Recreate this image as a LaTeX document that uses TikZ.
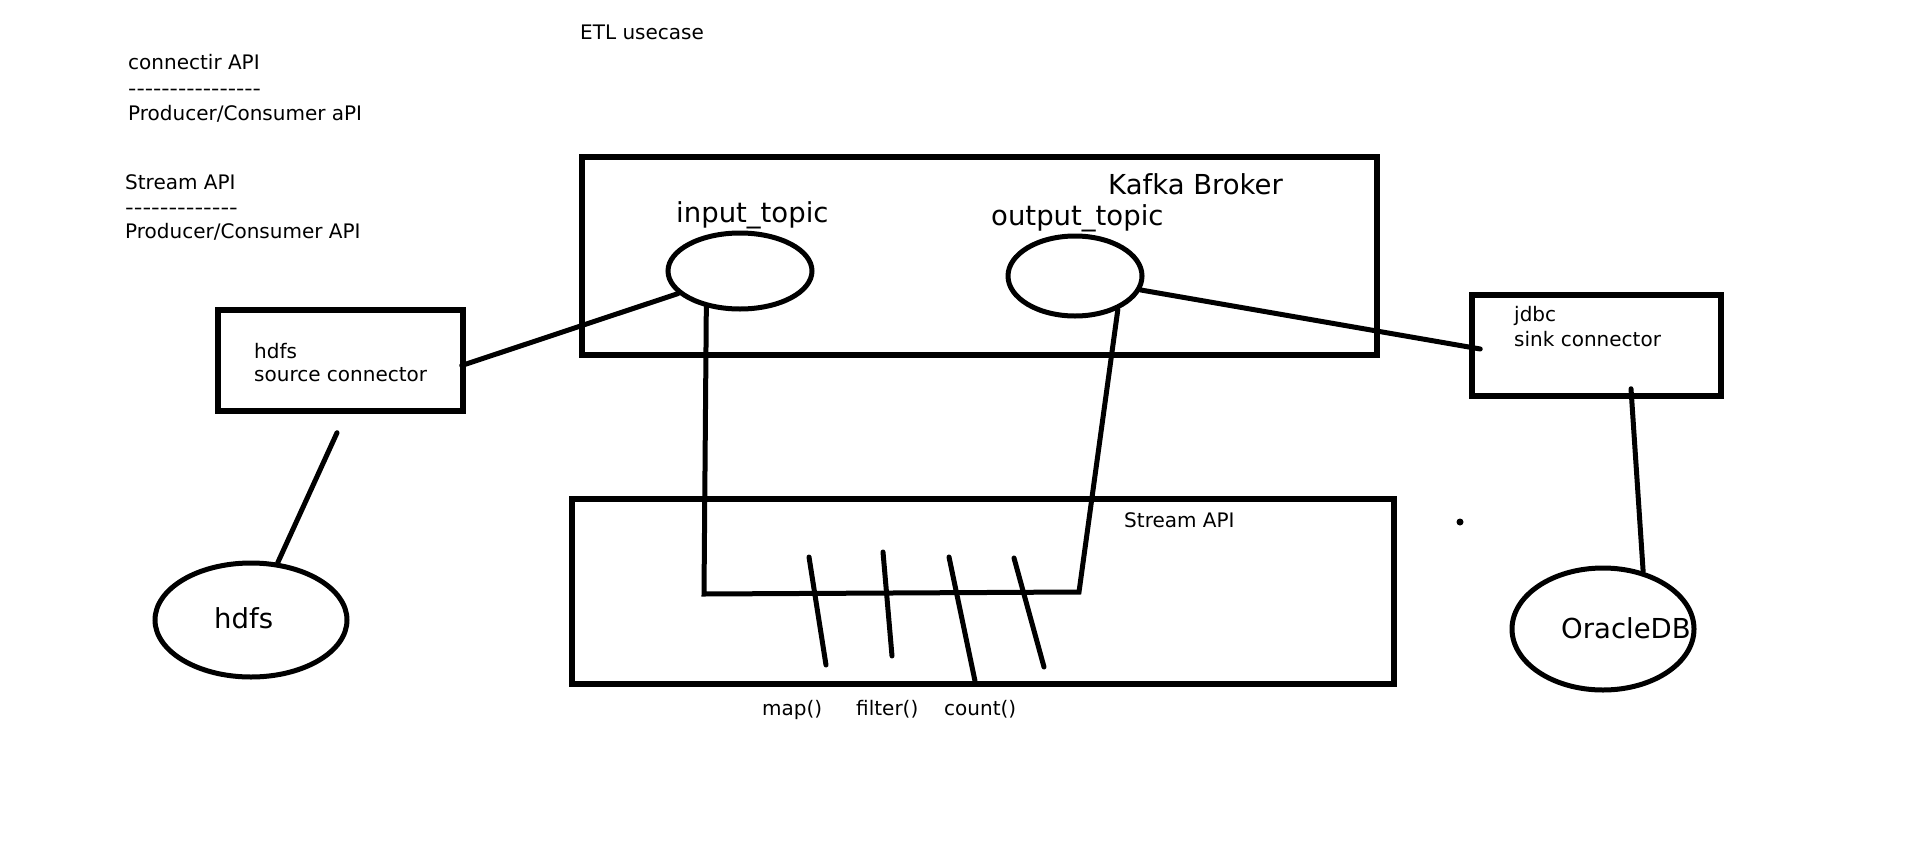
\documentclass[tikz,border=0pt]{standalone}
\usepackage{fontspec}
\setmainfont{DejaVu Sans}[Ligatures=TeXOff]
\usetikzlibrary{shapes.geometric,calc}
\tikzset{
  small/.style={font=\fontsize{20}{24}\selectfont, inner sep=0pt, anchor=base west},
  big/.style={font=\fontsize{27.5}{32}\selectfont, inner sep=0pt, anchor=base west},
  box/.style={draw, line width=5.5pt, inner sep=0pt},
  oval/.style={draw, ellipse, line width=5pt, inner sep=0pt},
  wire/.style={line width=5pt, line cap=round},
}
\begin{document}
\begin{tikzpicture}[x=1pt,y=-1pt]
\useasboundingbox[fill=white] (0,0) rectangle (1914,854);
% text notes
\node[small] (etl) at (580,39) {ETL usecase};
\node[small] (c1) at (128,69) {connectir API};
\node[small] (c2) at (128,95) {\scalebox{1.15}[1]{----------------}};
\node[small] (c3) at (128,120) {Producer/Consumer aPI};
\node[small] (s1) at (125,189) {Stream API};
\node[small] (s2) at (125,214) {\scalebox{1.2}[1]{-------------}};
\node[small] (s3) at (125,238) {Producer/Consumer API};
% Kafka broker
\node[box, minimum width=795pt, minimum height=198pt] (kafka) at (979.5,256) {};
\node[big] (kafkalbl) at (1108,194) {Kafka Broker};
\node[big] (inlbl) at (676,222) {input\_topic};
\node[big] (outlbl) at (991,225) {output\_topic};
\node[oval, minimum width=144pt, minimum height=76pt] (inp) at (740,271) {};
\node[oval, minimum width=134pt, minimum height=80pt] (outp) at (1075,276) {};
% source connector
\node[box, minimum width=245pt, minimum height=101pt] (src) at (340.5,360.5) {};
\node[small] (srct1) at (254,358) {hdfs};
\node[small] (srct2) at (254,381) {source connector};
% sink connector
\node[box, minimum width=249pt, minimum height=101pt] (jdbc) at (1596.5,345.5) {};
\node[small] (jt1) at (1514,321) {jdbc};
\node[small] (jt2) at (1514,346) {sink connector};
% stores
\node[oval, minimum width=192pt, minimum height=114pt] (hdfs) at (251,620) {};
\node[big] (hdfslbl) at (214,628) {hdfs};
\node[oval, minimum width=182pt, minimum height=122pt] (ora) at (1603,629) {};
\node[big] (oralbl) at (1561,638) {OracleDB};
% stream API box
\node[box, minimum width=822pt, minimum height=185pt] (stream) at (983,591.5) {};
\node[small] (streamlbl) at (1124,527) {Stream API};
\node[small] (mapl) at (762,715) {map()};
\node[small] (filtl) at (856,715) {filter()};
\node[small] (countl) at (944,715) {count()};
% connectors
\draw[wire] ($(src.east)+(-4,5)$) -- (inp.200);
\draw[wire] ($(src.south)+(-3.5,19)$) -- (hdfs.65);
\draw[wire] (outp.-12) -- ($(jdbc.west)+(11,3.5)$);
\draw[wire] ($(jdbc.south)+(34.5,-10)$) -- (ora.55);
\coordinate (j1) at (704,594);
\coordinate (j2) at (1079,592);
\draw[wire] (inp.227) -- (j1) -- (j2) -- (outp.-38);
% operator ticks
\draw[wire] (809,557) -- (826,665);
\draw[wire] (883,552) -- (892,656);
\draw[wire] (949,557) -- (975,681);
\draw[wire] (1014,558) -- (1044,667);
% stray dot
\fill (1460,522) circle (3.5pt);
\end{tikzpicture}
\end{document}
